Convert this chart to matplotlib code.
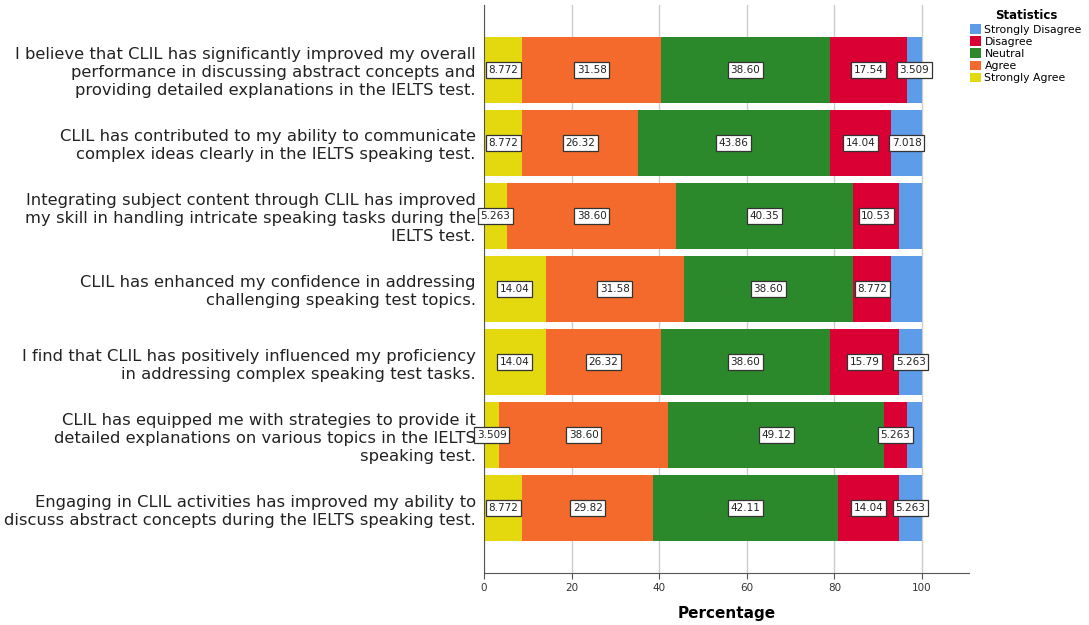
import matplotlib.pyplot as plt
from matplotlib.patches import Patch

categories = [
    "I believe that CLIL has significantly improved my overall\nperformance in discussing abstract concepts and\nproviding detailed explanations in the IELTS test.",
    "CLIL has contributed to my ability to communicate\ncomplex ideas clearly in the IELTS speaking test.",
    "Integrating subject content through CLIL has improved\nmy skill in handling intricate speaking tasks during the\nIELTS test.",
    "CLIL has enhanced my confidence in addressing\nchallenging speaking test topics.",
    "I find that CLIL has positively influenced my proficiency\nin addressing complex speaking test tasks.",
    "CLIL has equipped me with strategies to provide it\ndetailed explanations on various topics in the IELTS\nspeaking test.",
    "Engaging in CLIL activities has improved my ability to\ndiscuss abstract concepts during the IELTS speaking test.",
]

series_names = ["Strongly Agree", "Agree", "Neutral", "Disagree", "Strongly Disagree"]
strongly_agree = [8.772, 8.772, 5.263, 14.04, 14.04, 3.509, 8.772]
agree = [31.58, 26.32, 38.60, 31.58, 26.32, 38.60, 29.82]
neutral = [38.60, 43.86, 40.35, 38.60, 38.60, 49.12, 42.11]
disagree = [17.54, 14.04, 10.53, 8.772, 15.79, 5.263, 14.04]
strongly_disagree = [3.509, 7.018, 5.263, 7.018, 5.263, 3.509, 5.263]

# which segments carry a value label (per series, per row)
show_label = {
    "Strongly Agree": [True] * 7,
    "Agree": [True] * 7,
    "Neutral": [True] * 7,
    "Disagree": [True] * 7,
    "Strongly Disagree": [True, True, False, False, True, False, True],
}

colors = {
    "Strongly Agree": "#E4D80E",
    "Agree": "#F36A2C",
    "Neutral": "#2B882B",
    "Disagree": "#DA0034",
    "Strongly Disagree": "#5C9CE8",
}

values = {
    "Strongly Agree": strongly_agree,
    "Agree": agree,
    "Neutral": neutral,
    "Disagree": disagree,
    "Strongly Disagree": strongly_disagree,
}

plt.rcParams["font.family"] = ["DejaVu Sans"]

fig = plt.figure(figsize=(10.89, 6.25), dpi=100)
ax = fig.add_axes([484 / 1089, 1 - 573 / 625, (969 - 484) / 1089, (573 - 5) / 625])

ypos = list(range(len(categories)))
left = [0.0] * len(categories)
for name in series_names:
    vals = values[name]
    ax.barh(ypos, vals, left=left, height=0.9, color=colors[name],
            edgecolor="none", zorder=2)
    for i, v in enumerate(vals):
        if show_label[name][i]:
            ax.text(left[i] + v / 2, ypos[i], f"{v:.4g}" if v < 10 else f"{v:.2f}",
                    ha="center", va="center", fontsize=7.5, color="#222222", zorder=4,
                    bbox=dict(boxstyle="square,pad=0.25", fc="white", ec="#333333", lw=0.9))
    left = [l + v for l, v in zip(left, vals)]

ax.set_xlim(0, 110.7)
ax.set_ylim(len(categories) - 1 + 0.89, -0.89)
ax.set_xticks([0, 20, 40, 60, 80, 100])
ax.tick_params(axis="x", labelsize=7.5, length=4, color="#555555", labelcolor="#333333")
ax.set_yticks(ypos)
ax.set_yticklabels(categories, fontsize=11.8, color="#222222", linespacing=1.25)
ax.tick_params(axis="y", length=0, pad=6)
ax.grid(axis="x", color="#CCCCCC", lw=1, zorder=0)
for s in ["top", "right"]:
    ax.spines[s].set_visible(False)
for s in ["left", "bottom"]:
    ax.spines[s].set_color("#555555")
ax.set_xlabel("Percentage", fontsize=11, fontweight="bold", labelpad=9)

handles = [Patch(facecolor=colors[n], edgecolor="none") for n in reversed(series_names)]
leg = fig.legend(handles, list(reversed(series_names)), title="Statistics",
                 loc="upper left", bbox_to_anchor=(966 / 1089, 1 - 5 / 625),
                 frameon=False, fontsize=7.8, handlelength=1.0, handleheight=1.0,
                 handletextpad=0.3, labelspacing=0.15, borderaxespad=0)
leg.get_title().set_fontweight("bold")
leg.get_title().set_fontsize(8.5)

fig.savefig("out.png", dpi=100)
